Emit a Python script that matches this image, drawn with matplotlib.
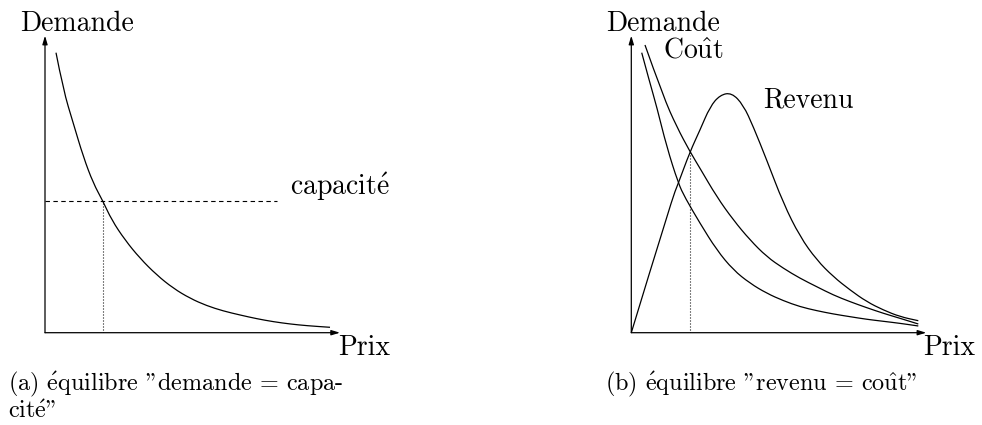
import matplotlib
matplotlib.use('Agg')
import matplotlib.pyplot as plt
from matplotlib.path import Path
from matplotlib.patches import PathPatch

plt.rcParams['font.family'] = ['cmr10', 'DejaVu Serif']
plt.rcParams['mathtext.fontset'] = 'cm'
plt.rcParams['axes.unicode_minus'] = False

# (a) demande = capacite
prix_a = [0.373, 0.620, 0.959, 1.298, 1.637, 1.956, 2.261, 2.712, 3.220, 3.786,
          4.349, 4.915, 5.481, 6.044, 6.610, 7.176, 7.739, 8.305, 8.871, 9.661]
demande_a = [9.428, 8.172, 7.051, 5.926, 5.030, 4.444, 3.795, 3.121, 2.505, 1.943,
             1.495, 1.158, 0.909, 0.731, 0.596, 0.471, 0.370, 0.293, 0.236, 0.182]
capacite = 4.44
capacite_fin = 7.86
prix_eq_a = 1.95

# (b) revenu = cout
prix_dem_b = [0.353, 0.634, 0.861, 1.200, 1.593, 1.820, 2.329, 2.895, 3.458, 4.024,
              4.590, 5.153, 5.719, 6.285, 6.847, 7.414, 7.980, 8.542, 9.108, 9.729]
demande_b = [9.428, 8.397, 7.609, 6.263, 5.030, 4.550, 3.684, 2.785, 2.111, 1.663,
             1.327, 1.077, 0.875, 0.741, 0.630, 0.539, 0.451, 0.384, 0.316, 0.226]
prix_cout_b = [0.464, 1.085, 1.539, 1.990, 2.329, 2.895, 3.458, 4.024, 4.590, 5.153,
               5.719, 6.285, 6.847, 7.414, 7.980, 8.542, 9.108, 9.729]
cout_b = [9.687, 7.946, 6.936, 6.094, 5.535, 4.579, 3.795, 3.121, 2.559, 2.168,
          1.832, 1.549, 1.269, 1.044, 0.842, 0.653, 0.485, 0.293]
prix_rev_b = [0.0, 1.369, 1.593, 1.990, 2.329, 2.668, 3.007, 3.403, 3.797, 4.136,
              4.590, 5.153, 5.719, 6.285, 6.847, 7.414, 7.980, 8.542, 9.108, 9.729]
revenu_b = [0.0, 4.468, 5.030, 6.094, 6.825, 7.609, 8.003, 8.081, 7.667, 6.936,
            5.815, 4.357, 3.232, 2.448, 1.886, 1.438, 1.044, 0.764, 0.539, 0.404]
prix_eq_b = 1.99
niveau_eq_b = 6.09

LW = 0.9
FS = 20
FS_CAP = 17.4
E_AIGU = r'$\mathrm{\acute{e}}$'
U_CIRC = r'$\mathrm{\hat{u}}$'


def courbe(ax, xs, ys):
    # spline quadratique passant par les milieux (comme xfig)
    pts = list(zip(xs, ys))
    verts = [pts[0]]
    codes = [Path.MOVETO]
    for i in range(1, len(pts) - 1):
        mid = ((pts[i][0] + pts[i + 1][0]) / 2, (pts[i][1] + pts[i + 1][1]) / 2)
        verts += [pts[i], mid]
        codes += [Path.CURVE3, Path.CURVE3]
    verts.append(pts[-1])
    codes.append(Path.LINETO)
    ax.add_patch(PathPatch(Path(verts, codes), fill=False, lw=LW, ec='black',
                           clip_on=False))


def axes_fleches(ax):
    ax.set_xlim(0, 10)
    ax.set_ylim(0, 10)
    ax.axis('off')
    fl = dict(arrowstyle='-|>,head_length=0.5,head_width=0.15', lw=LW, color='black',
              shrinkA=0, shrinkB=0, mutation_scale=10)
    ax.annotate('', xy=(10, 0), xytext=(0, 0), arrowprops=fl, annotation_clip=False)
    ax.annotate('', xy=(0, 10), xytext=(0, 0), arrowprops=fl, annotation_clip=False)
    ax.text(-0.85, 10.16, 'Demande', fontsize=FS, va='baseline', ha='left', clip_on=False)


fig = plt.figure(figsize=(9.82, 4.25), dpi=100)

ax1 = fig.add_axes([45 / 982, 92.3 / 425, 295 / 982, 297 / 425])
axes_fleches(ax1)
courbe(ax1, prix_a, demande_a)
ax1.plot([0, capacite_fin], [capacite, capacite], color='black', lw=0.8,
         linestyle=(0, (4.0, 3.1)))
ax1.plot([prix_eq_a, prix_eq_a], [0, capacite], color='black', lw=0.8,
         linestyle=(0, (0.9, 1.8)))
ax1.text(8.31, 4.64, 'capacit' + E_AIGU, fontsize=FS, va='baseline')
ax1.text(9.93, -0.75, 'Prix', fontsize=FS, va='baseline', clip_on=False)

ax2 = fig.add_axes([631.3 / 982, 92.3 / 425, 295 / 982, 297 / 425])
axes_fleches(ax2)
courbe(ax2, prix_dem_b, demande_b)
courbe(ax2, prix_cout_b, cout_b)
courbe(ax2, prix_rev_b, revenu_b)
ax2.plot([prix_eq_b, prix_eq_b], [0, niveau_eq_b], color='black', lw=0.8,
         linestyle=(0, (0.9, 1.8)))
ax2.text(1.07, 9.25, 'Co' + U_CIRC + 't', fontsize=FS, va='baseline')
ax2.text(4.46, 7.57, 'Revenu', fontsize=FS, va='baseline')
ax2.text(9.88, -0.75, 'Prix', fontsize=FS, va='baseline', clip_on=False)

fig.text(8 / 982, 1 - 390 / 425, '(a) ' + E_AIGU + 'quilibre "demande = capa-',
         fontsize=FS_CAP, va='baseline')
fig.text(8 / 982, 1 - 418 / 425, 'cit' + E_AIGU + '"', fontsize=FS_CAP, va='baseline')
fig.text(605 / 982, 1 - 390 / 425, '(b) ' + E_AIGU + 'quilibre "revenu = co' + U_CIRC + 't"',
         fontsize=FS_CAP, va='baseline')

fig.savefig('out.png', dpi=100)
